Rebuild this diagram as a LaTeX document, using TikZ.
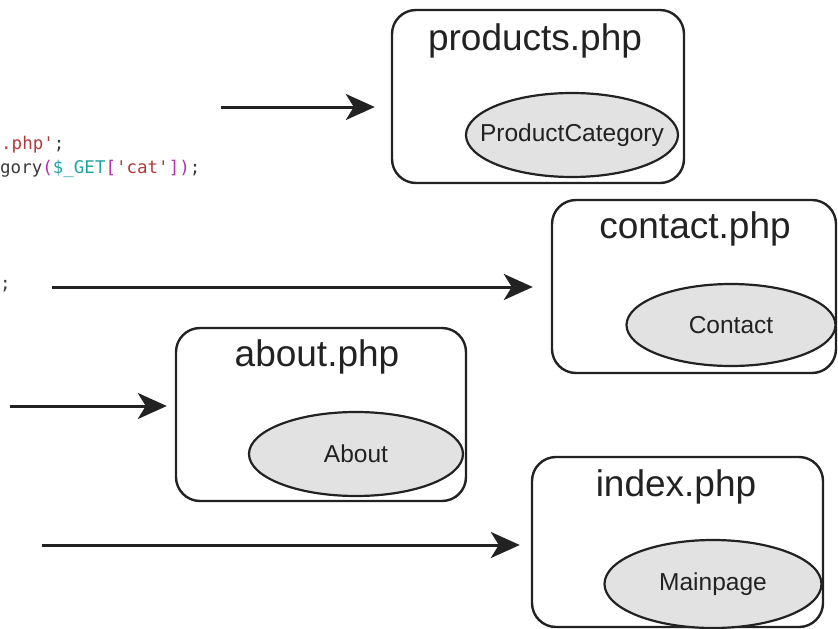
\documentclass[tikz,border=0pt]{standalone}
\usepackage{fontspec}
\setmainfont{Liberation Sans}
\newfontfamily\codefont{DejaVu Sans Mono}
\usetikzlibrary{arrows.meta,shapes.geometric}
\definecolor{txt}{HTML}{222222}
\definecolor{ellfill}{HTML}{E2E2E2}
\definecolor{codestr}{HTML}{B23A3A}
\definecolor{codevar}{HTML}{1FA3A3}
\definecolor{codebr}{HTML}{B030B0}
\definecolor{codetxt}{HTML}{3A3A3A}
\newcommand{\ctext}[1]{\makebox[0pt]{#1}}
\tikzset{
  page/.style={draw=txt, line width=2.4pt, rounded corners=24pt, inner sep=0pt},
  title/.style={anchor=base, text=txt, font=\fontsize{37}{37}\selectfont, inner sep=0pt},
  comp/.style={ellipse, draw=txt, line width=2.2pt, fill=ellfill, inner sep=0pt,
    text=txt, font=\fontsize{24.5}{24.5}\selectfont},
  arr/.style={draw=txt, line width=3pt, -{Stealth[length=29pt,width=26pt,inset=8pt]}},
  code/.style={anchor=base west, inner sep=0pt, font=\codefont\fontsize{17.5}{17.5}\selectfont, text=codetxt}
}
\begin{document}
\begin{tikzpicture}[x=1pt,y=-1pt]
\useasboundingbox (0,0) rectangle (838,629);
\clip (0,0) rectangle (838,629);

% code fragments on the left
\node[code] (c1) at (1,149) {\textcolor{codestr}{.php'};};
\node[code] (c2) at (0,173) {gory\textcolor{codebr}{(}\textcolor{codevar}{\$\_GET}\textcolor{codebr}{[}\textcolor{codestr}{'cat'}\textcolor{codebr}{])};};
\node[code] (c3) at (0,289) {;};

% products.php
\node[page, minimum width=292pt, minimum height=173pt] (prod) at (538,96.5) {};
\node[title] (prodT) at (535,50) {products.php};
\node[comp, minimum width=212pt, minimum height=84pt] (prodC) at (572,135) {\ctext{ProductCategory}};

% contact.php
\node[page, minimum width=284pt, minimum height=173pt] (cont) at (694,286.5) {};
\node[title] (contT) at (695,238) {contact.php};
\node[comp, minimum width=209pt, minimum height=82pt] (contC) at (731,325) {\ctext{Contact}};

% about.php
\node[page, minimum width=290pt, minimum height=173pt] (abt) at (321,414.5) {};
\node[title] (abtT) at (317,366) {about.php};
\node[comp, minimum width=214pt, minimum height=84pt] (abtC) at (356,454) {\ctext{About}};

% index.php
\node[page, minimum width=291pt, minimum height=170pt] (idx) at (677.5,542) {};
\node[title] (idxT) at (676,496) {index.php};
\node[comp, minimum width=217pt, minimum height=88pt] (idxC) at (713,584) {\ctext{Mainpage}};

% request arrows
\coordinate (a1) at (221,107);
\coordinate (a2) at (52,287);
\coordinate (a3) at (10,406);
\coordinate (a4) at (42,545);
\draw[arr, shorten >=16pt] (a1) -- (a1 -| prod.west);
\draw[arr, shorten >=18pt] (a2) -- (a2 -| cont.west);
\draw[arr, shorten >=8pt] (a3) -- (a3 -| abt.west);
\draw[arr, shorten >=11pt] (a4) -- (a4 -| idx.west);
\end{tikzpicture}
\end{document}
